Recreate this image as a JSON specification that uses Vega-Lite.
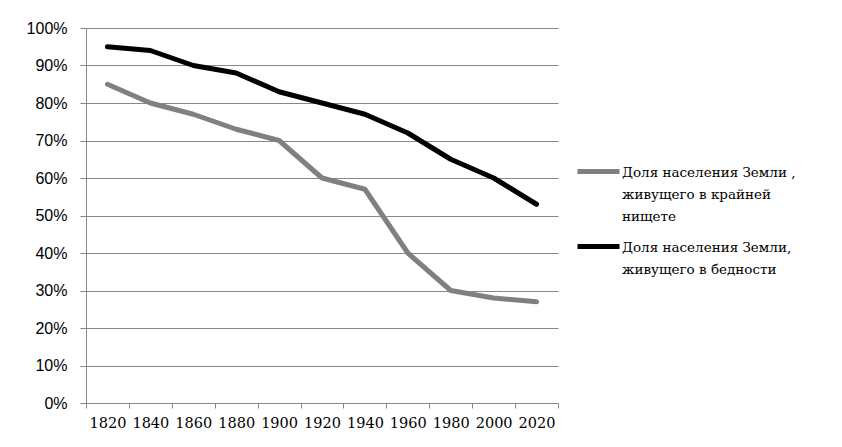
{
  "$schema": "https://vega.github.io/schema/vega-lite/v6.json",
  "width": 472,
  "height": 375,
  "padding": {"left": 86, "top": 28, "right": 284, "bottom": 44},
  "autosize": {"type": "none"},
  "background": "white",
  "config": {"view": {"stroke": null}},
  "data": {
    "values": [
      {"year": "1820", "series": "Доля населения Земли ,|живущего в крайней|нищете", "value": 0.85},
      {"year": "1840", "series": "Доля населения Земли ,|живущего в крайней|нищете", "value": 0.80},
      {"year": "1860", "series": "Доля населения Земли ,|живущего в крайней|нищете", "value": 0.77},
      {"year": "1880", "series": "Доля населения Земли ,|живущего в крайней|нищете", "value": 0.73},
      {"year": "1900", "series": "Доля населения Земли ,|живущего в крайней|нищете", "value": 0.70},
      {"year": "1920", "series": "Доля населения Земли ,|живущего в крайней|нищете", "value": 0.60},
      {"year": "1940", "series": "Доля населения Земли ,|живущего в крайней|нищете", "value": 0.57},
      {"year": "1960", "series": "Доля населения Земли ,|живущего в крайней|нищете", "value": 0.40},
      {"year": "1980", "series": "Доля населения Земли ,|живущего в крайней|нищете", "value": 0.30},
      {"year": "2000", "series": "Доля населения Земли ,|живущего в крайней|нищете", "value": 0.28},
      {"year": "2020", "series": "Доля населения Земли ,|живущего в крайней|нищете", "value": 0.27},
      {"year": "1820", "series": "Доля населения Земли,|живущего в бедности", "value": 0.95},
      {"year": "1840", "series": "Доля населения Земли,|живущего в бедности", "value": 0.94},
      {"year": "1860", "series": "Доля населения Земли,|живущего в бедности", "value": 0.90},
      {"year": "1880", "series": "Доля населения Земли,|живущего в бедности", "value": 0.88},
      {"year": "1900", "series": "Доля населения Земли,|живущего в бедности", "value": 0.83},
      {"year": "1920", "series": "Доля населения Земли,|живущего в бедности", "value": 0.80},
      {"year": "1940", "series": "Доля населения Земли,|живущего в бедности", "value": 0.77},
      {"year": "1960", "series": "Доля населения Земли,|живущего в бедности", "value": 0.72},
      {"year": "1980", "series": "Доля населения Земли,|живущего в бедности", "value": 0.65},
      {"year": "2000", "series": "Доля населения Земли,|живущего в бедности", "value": 0.60},
      {"year": "2020", "series": "Доля населения Земли,|живущего в бедности", "value": 0.53}
    ]
  },
  "mark": {"type": "line", "strokeWidth": 5, "strokeCap": "round", "strokeJoin": "round"},
  "encoding": {
    "x": {
      "field": "year",
      "type": "ordinal",
      "scale": {"type": "band", "paddingInner": 0, "paddingOuter": 0},
      "axis": {
        "title": null,
        "labelAngle": 0,
        "bandPosition": 0,
        "ticks": true,
        "tickBand": "extent",
        "tickSize": 5,
        "tickColor": "#888888",
        "domainColor": "#888888",
        "labelFont": "DejaVu Serif",
        "labelFontSize": 14.5,
        "labelColor": "#000000",
        "labelPadding": 8,
        "grid": false
      }
    },
    "y": {
      "field": "value",
      "type": "quantitative",
      "scale": {"domain": [0, 1], "nice": false},
      "axis": {
        "title": null,
        "format": ".0%",
        "values": [0, 0.1, 0.2, 0.3, 0.4, 0.5, 0.6, 0.7, 0.8, 0.9, 1.0],
        "tickSize": 6,
        "tickColor": "#888888",
        "domainColor": "#888888",
        "gridColor": "#888888",
        "gridOpacity": 1,
        "labelFont": "Liberation Sans",
        "labelFontSize": 16,
        "labelColor": "#000000",
        "labelPadding": 13
      }
    },
    "color": {
      "field": "series",
      "type": "nominal",
      "sort": ["Доля населения Земли ,|живущего в крайней|нищете", "Доля населения Земли,|живущего в бедности"],
      "scale": {"range": ["#808080", "#000000"]},
      "legend": {
        "title": null,
        "orient": "none",
        "legendX": 489,
        "legendY": 120,
        "symbolType": "stroke",
        "symbolStrokeWidth": 5,
        "symbolSize": 1764,
        "labelExpr": "split(datum.label, '|')",
        "labelFont": "DejaVu Serif",
        "labelFontSize": 13.5,
        "labelColor": "#000000",
        "labelLimit": 300,
        "labelOffset": 0,
        "rowPadding": -19,
        "labelBaseline": "top",
        "encode": {"labels": {"update": {"lineHeight": {"value": 22}, "dy": {"value": -6}}}}
      }
    }
  }
}
